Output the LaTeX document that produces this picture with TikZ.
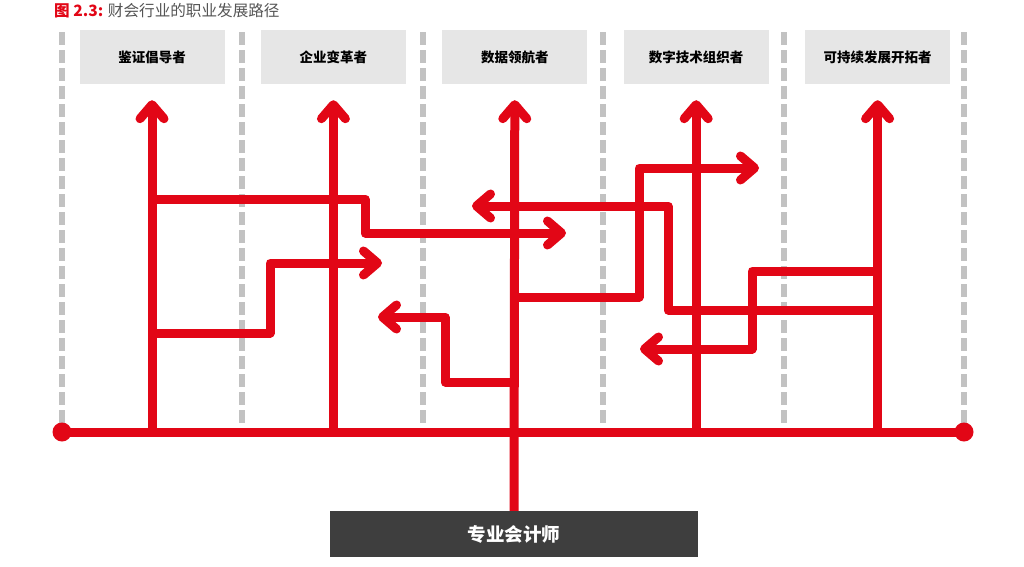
\documentclass[tikz,border=0pt]{standalone}
\usepackage{fontspec}
\newfontfamily\cjk{Noto Sans CJK SC}
\usetikzlibrary{arrows.meta, positioning}
\definecolor{merah}{RGB}{226,6,22}
\definecolor{abu}{RGB}{230,230,230}
\definecolor{abugaris}{RGB}{194,194,194}
\definecolor{gelap}{RGB}{62,62,62}
\definecolor{abujudul}{RGB}{85,85,85}

\begin{document}
\begin{tikzpicture}[
			x=1pt, y=-1pt,
			kotak/.style={fill=abu, minimum width=145pt, minimum height=54pt, inner sep=0pt, align=center, font=\cjk\bfseries\fontsize{13.5}{16}\selectfont},
			dasar/.style={fill=gelap, text=white, minimum width=368pt, minimum height=46pt, inner sep=0pt, font=\cjk\bfseries\fontsize{18.5}{22}\selectfont},
			jalur/.style={draw=merah, line width=9pt, line join=round},
			panah/.style={jalur, -{Straight Barb[length=14pt, width=24pt, line cap=round, line join=round]}},
			pandu/.style={draw=abugaris, line width=6pt, dash pattern=on 13pt off 5pt}
		]
		\useasboundingbox (0,0) rectangle (1024,566);

		% Judul
		\node[anchor=west, inner sep=0pt, text=abujudul, font=\cjk\fontsize{15.6}{18}\selectfont] (judul) at (54,11) {\textcolor{merah}{\bfseries 图 2.3:} 财会行业的职业发展路径};

		% Garis pandu (putus-putus)
		\foreach \i in {0,...,5}
			\draw[pandu] (62+180.4*\i,32) -- (62+180.4*\i,426);

		% Node Peran (Atas)
		\node[kotak, text depth=-2pt] (p1) at (152,57) {鉴证倡导者};
		\node[kotak, text depth=-2pt, right=36pt of p1] (p2) {企业变革者};
		\node[kotak, text depth=-2pt, right=36pt of p2] (p3) {数据领航者};
		\node[kotak, text depth=-2pt, right=36pt of p3] (p4) {数字技术组织者};
		\node[kotak, text depth=-2pt, right=36pt of p4] (p5) {可持续发展开拓者};

		% Node Dasar (Bawah)
		\node[dasar] (akuntan) at (514,534) {专业会计师};

		% Garis utama
		\coordinate (kiri) at (62,432);
		\coordinate (kanan) at (964,432);
		\draw[jalur] (kiri) -- (kanan);
		\fill[merah] (kiri) circle (9.5pt) (kanan) circle (9.5pt);

		% Panah ke atas
		\foreach \n in {1,2,4,5}
			\draw[panah] (p\n.south |- kiri) -- ([yshift=-16pt]p\n.south);
		\draw[panah] (akuntan.north) -- ([yshift=-16pt]p3.south);

		% Ujung panah belok
		\coordinate (ua) at (566,233);
		\coordinate (ub) at (382,263);
		\coordinate (uc) at (378,317);
		\coordinate (ud) at (472,206);
		\coordinate (ue) at (759,168);
		\coordinate (uf) at (640,349);

		% Jalur belok
		\draw[panah] (p1.south |- 0,199) -- (365,199) -- (365,233) -- (ua);
		\draw[panah] (p1.south |- 0,333) -- (270,333) -- (270,263) -- (ub);
		\draw[panah] (p3.south |- 0,382) -- (445,382) -- (445,317) -- (uc);
		\draw[panah] (p5.south |- 0,310) -- (668,310) -- (668,206) -- (ud);
		\draw[panah] (p3.south |- 0,297) -- (639,297) -- (639,168) -- (ue);
		\draw[panah] (p5.south |- 0,271) -- (752,271) -- (752,349) -- (uf);
	\end{tikzpicture}
\end{document}
